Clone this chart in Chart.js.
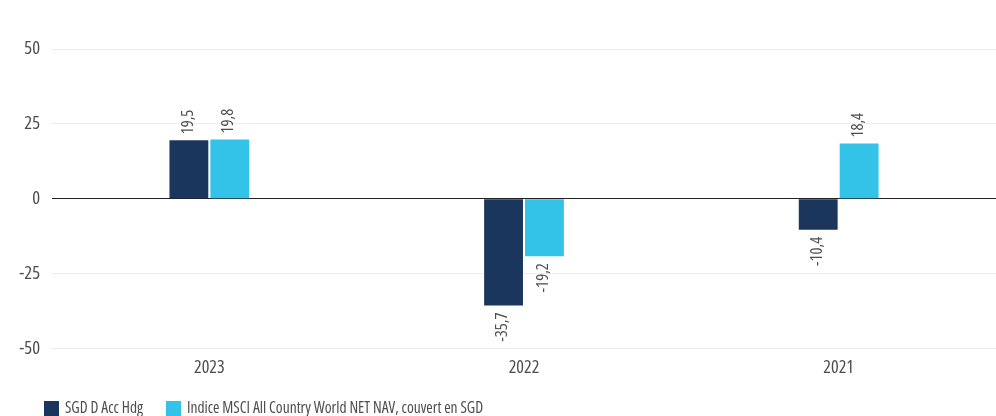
<!DOCTYPE html>
<html><head><meta charset="utf-8">
<script src="https://cdn.jsdelivr.net/npm/chart.js@4/dist/chart.umd.min.js"></script>
<style>html,body{margin:0;padding:0;background:#fff;overflow:hidden}#wrap{width:996px;height:416px;position:relative}</style>
</head><body><div id="wrap"><canvas id="c"></canvas></div>
<script>
const categories = ["2023", "2022", "2021"];
const fundName = "SGD D Acc Hdg";
const indexName = "Indice MSCI All Country World NET NAV, couvert en SGD";
const fundValues = [19.5, -35.7, -10.4];
const indexValues = [19.8, -19.2, 18.4];
const yTicks = [-50, -25, 0, 25, 50];
const FAMILY = "'Open Sans', sans-serif";
const STRETCH = 'condensed';
const TXT = '#4d4d4d';

const valueLabels = {
  id: 'valueLabels',
  afterDatasetsDraw(chart) {
    const ctx = chart.ctx;
    ctx.save();
    ctx.font = STRETCH + ' 16.5px ' + FAMILY;
    ctx.fillStyle = TXT;
    ctx.textBaseline = 'middle';
    chart.data.datasets.forEach((ds, i) => {
      chart.getDatasetMeta(i).data.forEach((bar, j) => {
        const v = ds.data[j];
        const s = v.toFixed(1).replace('.', ',');
        ctx.save();
        ctx.translate(bar.x - 1, bar.y + (v >= 0 ? -6 : 7));
        ctx.rotate(-Math.PI / 2);
        ctx.textAlign = v >= 0 ? 'left' : 'right';
        ctx.fillText(s, 0, 0);
        ctx.restore();
      });
    });
    ctx.restore();
  }
};

const bottomLegend = {
  id: 'bottomLegend',
  afterDraw(chart) {
    const ctx = chart.ctx;
    ctx.save();
    ctx.font = STRETCH + ' 15.5px ' + FAMILY;
    ctx.textBaseline = 'middle';
    ctx.textAlign = 'left';
    let x = 44;
    const yc = 409;
    chart.data.datasets.forEach(ds => {
      ctx.fillStyle = ds.backgroundColor;
      ctx.fillRect(x, 401, 15, 15);
      ctx.fillStyle = TXT;
      ctx.fillText(ds.label, x + 21, yc);
      x += 21 + ctx.measureText(ds.label).width + 23;
    });
    ctx.restore();
  }
};

new Chart(document.getElementById('c'), {
  type: 'bar',
  data: {
    labels: categories,
    datasets: [
      { label: fundName, data: fundValues, backgroundColor: '#1b365d', barPercentage: 0.95, categoryPercentage: 0.26 },
      { label: indexName, data: indexValues, backgroundColor: '#33c3e8', barPercentage: 0.95, categoryPercentage: 0.26 }
    ]
  },
  options: {
    responsive: true,
    maintainAspectRatio: false,
    animation: false,
    layout: { padding: { top: 49, left: 0, right: 0, bottom: 28 } },
    plugins: {
      tooltip: { enabled: false },
      legend: { display: false }
    },
    scales: {
      x: {
        grid: { display: false, drawTicks: false },
        border: { display: false },
        ticks: { color: TXT, font: { family: FAMILY, weight: STRETCH, size: 18 }, padding: 9 }
      },
      y: {
        min: -50, max: 50,
        afterBuildTicks(scale) { scale.ticks = yTicks.map(v => ({ value: v })); },
        afterFit(scale) { scale.width = 52; },
        grid: {
          drawTicks: false,
          color: ctx => ctx.tick && ctx.tick.value === 0 ? '#222' : '#ededed',
          lineWidth: 1
        },
        border: { display: false },
        ticks: { color: TXT, font: { family: FAMILY, weight: STRETCH, size: 18.5 }, padding: 12 }
      }
    }
  },
  plugins: [valueLabels, bottomLegend]
});
</script>
</body></html>
